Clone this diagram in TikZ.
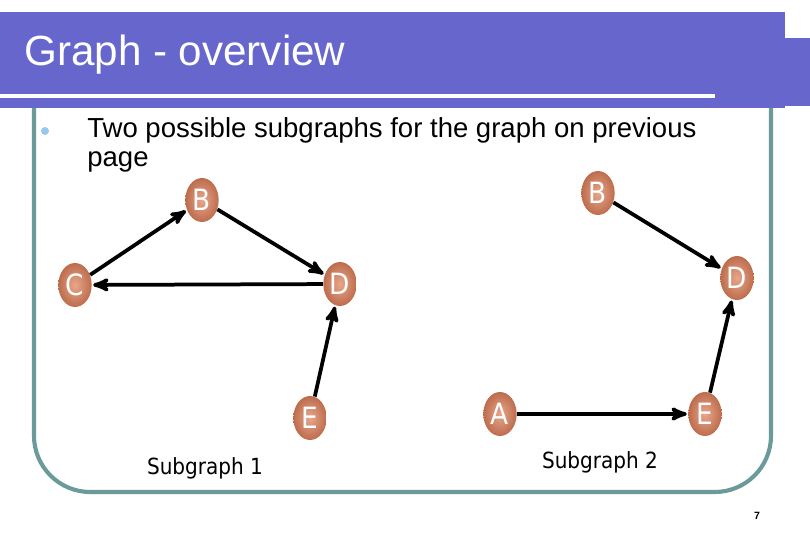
\documentclass[tikz,border=0pt]{standalone}
\usepackage{fontspec}
\setmainfont{Liberation Sans}
\newfontfamily\narrowfont{DejaVu Sans Condensed}
\usetikzlibrary{arrows,shapes.geometric}
\usetikzlibrary{positioning}
\definecolor{bandblue}{RGB}{102,102,204}
\definecolor{frameteal}{RGB}{106,154,154}
\definecolor{ballorange}{RGB}{222,128,90}
\definecolor{bulletblue}{RGB}{150,200,240}

\begin{document}
\begin{tikzpicture}[x=0.03cm,y=-0.03cm,->,>=stealth',semithick]
 \tikzstyle{vert}=[ellipse, draw=none, inner sep=0pt, minimum width=1.0cm, minimum height=1.32cm,
   shading=radial, inner color=ballorange!70!white, outer color=ballorange!85!black,
   text=white, font=\narrowfont\fontsize{25}{25}\selectfont]
 \tikzstyle{arc}=[line width=3.2pt, shorten >=1pt]
 \tikzstyle{caption}=[font=\narrowfont\fontsize{19}{19}\selectfont]
 \useasboundingbox (0,0) rectangle (810,540);
 % header band
 \fill[bandblue,-] (0,12) rectangle (785,108);
 \fill[bandblue,-] (785,38) rectangle (810,106);
 \draw[white,line width=3pt,-] (0,96) -- (715,96);
 \node[anchor=west,text=white,font=\fontsize{36}{36}\selectfont] (title) at (20,55) {Graph - overview};
 % frame
 \draw[frameteal,line width=3.5pt,-,rounded corners=48] (34,108) -- (34,492) -- (771,492) -- (771,108);
 % bullet
 \fill[bulletblue,-] (45,131) circle (4);
 \node[anchor=west,font=\fontsize{23.5}{23.5}\selectfont,inner sep=0pt] (line1) at (87,130) {Two possible subgraphs for the graph on previous};
 \node[anchor=west,font=\fontsize{23.5}{23.5}\selectfont,inner sep=0pt] (line2) at (87,162) {page};
 % subgraph 1
 \node[vert] (B1) at (202,200) {B};
 \node[vert] (C1) at (75,285) {C};
 \node[vert] (D1) at (340,284) {D};
 \node[vert] (E1) at (310,418) {E};
 % subgraph 2
 \node[vert] (B2) at (598,193) {B};
 \node[vert] (D2) at (737,278) {D};
 \node[vert] (E2) at (705,414) {E};
 \node[vert] (A2) at (500,414) {A};
 \path
 (C1) edge [arc] (B1)
 (B1) edge [arc] (D1)
 (D1) edge [arc] (C1)
 (E1) edge [arc] (D1)
 (B2) edge [arc] (D2)
 (A2) edge [arc] (E2)
 (E2) edge [arc] (D2);
 \node[caption] (cap1) at (205,468) {Subgraph 1};
 \node[caption] (cap2) at (600,462) {Subgraph 2};
 \node[font=\bfseries\fontsize{9}{9}\selectfont] (pagenum) at (757,516) {7};
\end{tikzpicture}
\end{document}
